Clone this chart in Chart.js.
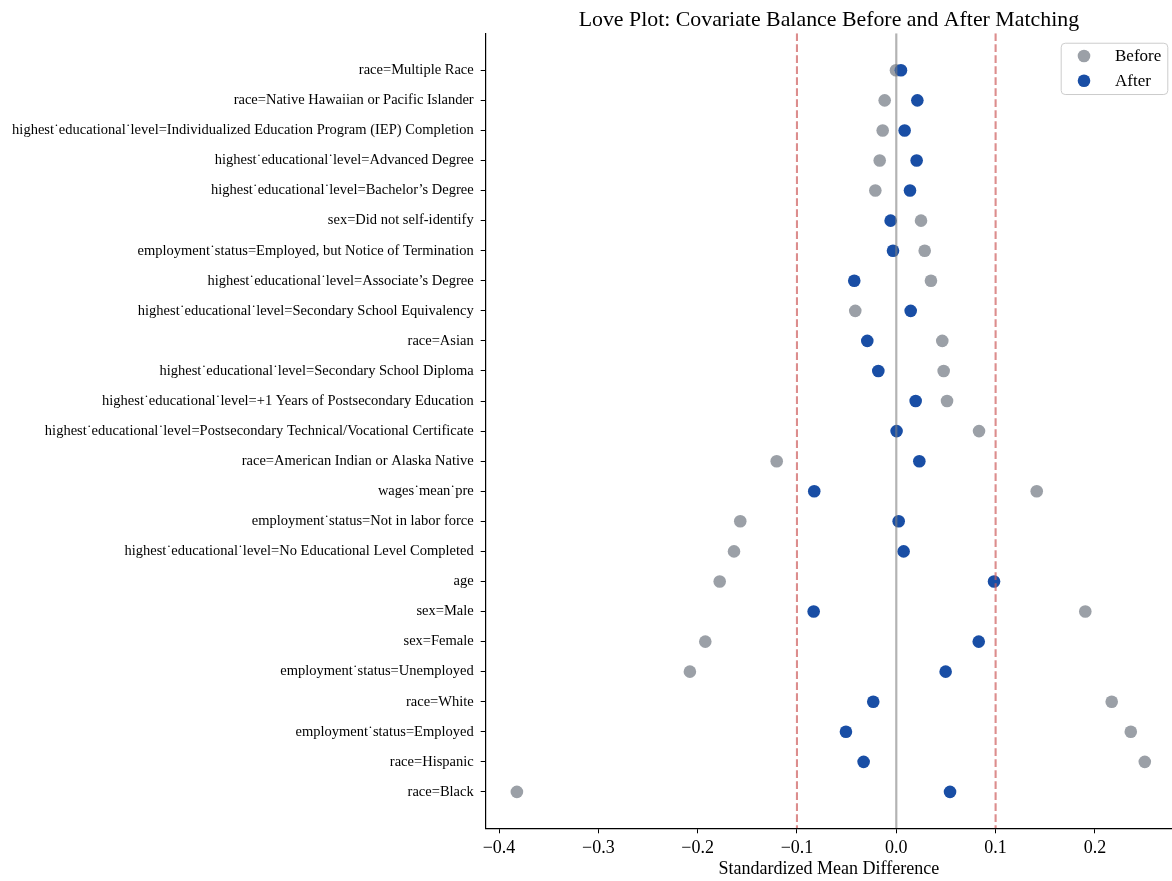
<!DOCTYPE html>
<html>
<head>
<meta charset="utf-8">
<script src="https://cdn.jsdelivr.net/npm/chart.js@4.4.1/dist/chart.umd.min.js"></script>
<style>
  html, body { margin: 0; padding: 0; background: #ffffff; }
  #wrap { width: 1172px; height: 881px; }
</style>
</head>
<body>
<div id="wrap"><canvas id="love" width="1172" height="881"></canvas></div>
<script>
// Covariates listed top to bottom, with standardized mean differences before and after matching
const covariates = [
  'race=Multiple Race',
  'race=Native Hawaiian or Pacific Islander',
  'highest˙educational˙level=Individualized Education Program (IEP) Completion',
  'highest˙educational˙level=Advanced Degree',
  'highest˙educational˙level=Bachelor’s Degree',
  'sex=Did not self-identify',
  'employment˙status=Employed, but Notice of Termination',
  'highest˙educational˙level=Associate’s Degree',
  'highest˙educational˙level=Secondary School Equivalency',
  'race=Asian',
  'highest˙educational˙level=Secondary School Diploma',
  'highest˙educational˙level=+1 Years of Postsecondary Education',
  'highest˙educational˙level=Postsecondary Technical/Vocational Certificate',
  'race=American Indian or Alaska Native',
  'wages˙mean˙pre',
  'employment˙status=Not in labor force',
  'highest˙educational˙level=No Educational Level Completed',
  'age',
  'sex=Male',
  'sex=Female',
  'employment˙status=Unemployed',
  'race=White',
  'employment˙status=Employed',
  'race=Hispanic',
  'race=Black'
];

const smdBefore = [
  -0.0003, -0.0117, -0.0137, -0.0167, -0.0211,
  0.0249, 0.0286, 0.0349, -0.0413, 0.0463,
  0.0477, 0.0511, 0.0833, -0.1204, 0.1414,
  -0.1571, -0.1634, -0.1778, 0.1903, -0.1923,
  -0.2078, 0.2169, 0.2361, 0.2502, -0.3820
];

const smdAfter = [
  0.0047, 0.0212, 0.0084, 0.0205, 0.0138,
  -0.0057, -0.0033, -0.0423, 0.0145, -0.0292,
  -0.0181, 0.0195, 0.0003, 0.0232, -0.0826,
  0.0024, 0.0074, 0.0984, -0.0832, 0.0830,
  0.0497, -0.0232, -0.0507, -0.0329, 0.0541
];

const xTicks = [-0.4, -0.3, -0.2, -0.1, 0.0, 0.1, 0.2];
const balanceThresholds = [-0.1, 0.1];
const zeroLine = 0;

const SERIF = '"Liberation Serif", "DejaVu Serif", serif';
const GREY = 'rgb(155,160,167)';
const BLUE = 'rgb(25,78,165)';
const MARKER_R = 6.3;

const toPoints = vals => vals.map((v, i) => ({ x: v, y: i }));

// Reference lines drawn above the markers
const refLines = {
  id: 'refLines',
  afterDatasetsDraw(chart) {
    const { ctx, chartArea, scales } = chart;
    ctx.save();
    ctx.beginPath();
    ctx.rect(chartArea.left, chartArea.top, chartArea.right - chartArea.left, chartArea.bottom - chartArea.top);
    ctx.clip();
    // zero line
    const zx = scales.x.getPixelForValue(zeroLine);
    ctx.strokeStyle = 'rgba(128,128,128,0.6)';
    ctx.lineWidth = 2.2;
    ctx.setLineDash([]);
    ctx.beginPath();
    ctx.moveTo(zx, chartArea.top);
    ctx.lineTo(zx, chartArea.bottom);
    ctx.stroke();
    // +/- 0.1 balance thresholds
    ctx.strokeStyle = 'rgba(205,92,92,0.7)';
    ctx.lineWidth = 2.1;
    ctx.setLineDash([7.7, 3.3]);
    balanceThresholds.forEach(t => {
      const px = scales.x.getPixelForValue(t);
      ctx.beginPath();
      ctx.moveTo(px, chartArea.top);
      ctx.lineTo(px, chartArea.bottom);
      ctx.stroke();
    });
    ctx.restore();
  }
};

// Framed legend in the upper right of the plot
const framedLegend = {
  id: 'framedLegend',
  afterDraw(chart) {
    const { ctx, chartArea } = chart;
    const w = 106.6, h = 51.3;
    const x = chartArea.right - 4.7 - w;
    const y = chartArea.top + 9.4;
    ctx.save();
    ctx.beginPath();
    ctx.roundRect(x + 0.5, y + 0.5, w, h, 4);
    ctx.fillStyle = 'rgba(255,255,255,0.8)';
    ctx.fill();
    ctx.strokeStyle = '#cccccc';
    ctx.lineWidth = 1;
    ctx.stroke();
    ctx.font = '17px ' + SERIF;
    ctx.textBaseline = 'middle';
    ctx.textAlign = 'left';
    chart.data.datasets.forEach((ds, i) => {
      const cy = y + 13.3 + i * 24.7;
      ctx.beginPath();
      ctx.arc(x + 23.3, cy, MARKER_R, 0, Math.PI * 2);
      ctx.fillStyle = ds.backgroundColor;
      ctx.fill();
      ctx.fillStyle = '#000';
      ctx.fillText(ds.label, x + 54.3, cy + 1);
    });
    ctx.restore();
  }
};

new Chart(document.getElementById('love'), {
  type: 'scatter',
  data: {
    datasets: [
      {
        label: 'Before',
        data: toPoints(smdBefore),
        backgroundColor: GREY,
        borderWidth: 0,
        pointRadius: MARKER_R,
        order: 2
      },
      {
        label: 'After',
        data: toPoints(smdAfter),
        backgroundColor: BLUE,
        borderWidth: 0,
        pointRadius: MARKER_R,
        order: 1
      }
    ]
  },
  options: {
    responsive: false,
    animation: false,
    devicePixelRatio: 1,
    layout: { padding: 0, autoPadding: false },
    plugins: {
      legend: { display: false },
      tooltip: { enabled: false },
      title: {
        display: true,
        fullSize: false,
        text: 'Love Plot: Covariate Balance Before and After Matching',
        color: '#000',
        font: { family: SERIF, size: 21.85, weight: 'normal', lineHeight: 1.2 },
        padding: { top: 7, bottom: 0.1 }
      }
    },
    scales: {
      x: {
        type: 'linear',
        min: -0.4134,
        max: 0.2776,
        afterBuildTicks(scale) { scale.ticks = xTicks.map(v => ({ value: v })); },
        afterFit(scale) {
          scale.height = 52.7;
          scale.paddingLeft = 0;
          scale.paddingRight = 0;
        },
        ticks: {
          color: '#000',
          font: { family: SERIF, size: 18 },
          padding: 4,
          maxRotation: 0,
          callback: v => Number(v).toFixed(1).replace('-', '\u2212')
        },
        grid: { drawOnChartArea: false, tickLength: 5, tickColor: '#000', tickWidth: 1 },
        border: { display: true, color: '#000', width: 1.2 },
        title: {
          display: true,
          text: 'Standardized Mean Difference',
          color: '#000',
          font: { family: SERIF, size: 18 },
          padding: { top: 0, bottom: 1 }
        }
      },
      y: {
        type: 'linear',
        reverse: true,
        min: -1.23,
        max: 25.21,
        afterBuildTicks(scale) { scale.ticks = covariates.map((c, i) => ({ value: i })); },
        afterFit(scale) {
          scale.width = 485.7;
          scale.paddingTop = 0;
          scale.paddingBottom = 0;
        },
        ticks: {
          color: '#000',
          font: { family: SERIF, size: 14.5 },
          padding: 7,
          autoSkip: false,
          callback: v => covariates[v]
        },
        grid: { drawOnChartArea: false, tickLength: 5, tickColor: '#000', tickWidth: 1 },
        border: { display: true, color: '#000', width: 1.2 }
      }
    }
  },
  plugins: [refLines, framedLegend]
});
</script>
</body>
</html>
